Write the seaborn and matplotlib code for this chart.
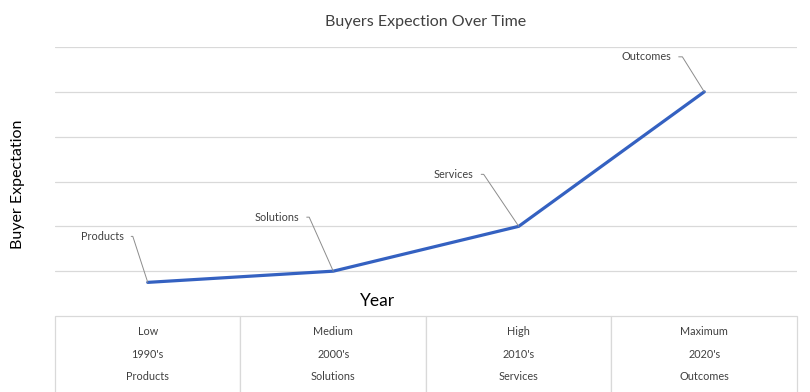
import numpy as np
import pandas as pd
import matplotlib
matplotlib.use("Agg")
import matplotlib.pyplot as plt
import seaborn as sns

# Chart data
stages = ["Products", "Solutions", "Services", "Outcomes"]
levels = ["Low", "Medium", "High", "Maximum"]
decades = ["1990's", "2000's", "2010's", "2020's"]
expectation = [0.75, 1.0, 2.0, 5.0]

# label offsets (pixels from the point) and leader angle
label_offsets = [(-24, 46), (-34, 54), (-45, 52), (-33, 35)]
leader_angles = [108, 114, 124, 122]

sns.set_style("white")
plt.rcParams["font.family"] = ["Lato", "DejaVu Sans"]

df = pd.DataFrame({"pos": np.arange(len(stages)), "expectation": expectation,
                   "stage": stages})

fig = plt.figure(figsize=(8.1, 3.92), dpi=100)
# axes spans x 55..797, y 47..316 pixels
ax = fig.add_axes([55 / 810, 1 - 316 / 392, 742 / 810, 269 / 392])

sns.lineplot(data=df, x="pos", y="expectation", ax=ax, color="#3461C1",
             linewidth=2.3, zorder=3)

ax.set_xlim(-0.5, len(stages) - 0.5)
ax.set_ylim(0, 6)
ax.set_yticks(np.arange(1, 7))
ax.set_yticklabels([])
ax.set_xticks([])
ax.yaxis.grid(True, color="#d9d9d9", linewidth=0.9)
ax.tick_params(left=False, bottom=False)
for s in ax.spines.values():
    s.set_visible(False)

# data labels with leader lines
for i, (stage, val) in enumerate(zip(stages, expectation)):
    ax.annotate(stage, xy=(i, val), xytext=label_offsets[i],
                textcoords="offset pixels", ha="right", va="center",
                fontsize=7.8, color="#404040",
                arrowprops=dict(arrowstyle="-", color="#8c8c8c", lw=0.7,
                                relpos=(1, 0.5), shrinkA=3, shrinkB=0,
                                connectionstyle="angle,angleA=0,angleB=%d,rad=0"
                                % leader_angles[i]))

ax.set_title("Buyers Expection Over Time", fontsize=11.5, color="#404040", pad=15)
ax.set_ylabel("Buyer Expectation", fontsize=11.5, color="black")
ax.yaxis.set_label_coords(-0.04, 0.49)
ax.set_xlabel("Year", fontsize=12.5, color="black")
ax.xaxis.set_label_coords(0.435, 0.056)
ax.xaxis.label.set_va("center")

# data table under the axis
cells = [[f"{l}\n{d}\n{s}" for l, d, s in zip(levels, decades, stages)]]
tbl = ax.table(cellText=cells, cellLoc="center", bbox=[0, -76 / 269, 1, 76 / 269])
tbl.auto_set_font_size(False)
for (r, c), cell in tbl.get_celld().items():
    cell.visible_edges = "LRT"
    cell.set_edgecolor("#d9d9d9")
    cell.set_linewidth(0.9)
    txt = cell.get_text()
    txt.set_fontsize(7.8)
    txt.set_color("#404040")
    txt.set_linespacing(2.32)

fig.savefig("out.png", dpi=100)
